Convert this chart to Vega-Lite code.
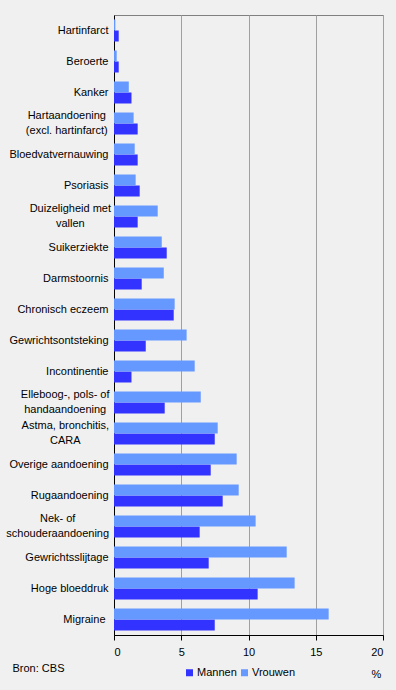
{
  "$schema": "https://vega.github.io/schema/vega-lite/v6.json",
  "width": 269,
  "height": 620,
  "autosize": {"type": "none"},
  "padding": {"left": 114, "top": 15, "right": 13, "bottom": 55},
  "background": "#f0f0f0",
  "config": {"font": "Liberation Sans", "view": {"stroke": "#808080", "strokeWidth": 1, "fill": "#f0f0f0"}},
  "data": {"values": [
    {"aandoening": "Hartinfarct", "geslacht": "Mannen", "pct": 0.35},
    {"aandoening": "Hartinfarct", "geslacht": "Vrouwen", "pct": 0.1},
    {"aandoening": "Beroerte", "geslacht": "Mannen", "pct": 0.35},
    {"aandoening": "Beroerte", "geslacht": "Vrouwen", "pct": 0.2},
    {"aandoening": "Kanker", "geslacht": "Mannen", "pct": 1.3},
    {"aandoening": "Kanker", "geslacht": "Vrouwen", "pct": 1.1},
    {"aandoening": "Hartaandoening|(excl. hartinfarct)", "geslacht": "Mannen", "pct": 1.76},
    {"aandoening": "Hartaandoening|(excl. hartinfarct)", "geslacht": "Vrouwen", "pct": 1.46},
    {"aandoening": "Bloedvatvernauwing", "geslacht": "Mannen", "pct": 1.76},
    {"aandoening": "Bloedvatvernauwing", "geslacht": "Vrouwen", "pct": 1.54},
    {"aandoening": "Psoriasis", "geslacht": "Mannen", "pct": 1.91},
    {"aandoening": "Psoriasis", "geslacht": "Vrouwen", "pct": 1.61},
    {"aandoening": "Duizeligheid met|vallen", "geslacht": "Mannen", "pct": 1.76},
    {"aandoening": "Duizeligheid met|vallen", "geslacht": "Vrouwen", "pct": 3.25},
    {"aandoening": "Suikerziekte", "geslacht": "Mannen", "pct": 3.92},
    {"aandoening": "Suikerziekte", "geslacht": "Vrouwen", "pct": 3.55},
    {"aandoening": "Darmstoornis", "geslacht": "Mannen", "pct": 2.06},
    {"aandoening": "Darmstoornis", "geslacht": "Vrouwen", "pct": 3.7},
    {"aandoening": "Chronisch eczeem", "geslacht": "Mannen", "pct": 4.44},
    {"aandoening": "Chronisch eczeem", "geslacht": "Vrouwen", "pct": 4.51},
    {"aandoening": "Gewrichtsontsteking", "geslacht": "Mannen", "pct": 2.36},
    {"aandoening": "Gewrichtsontsteking", "geslacht": "Vrouwen", "pct": 5.4},
    {"aandoening": "Incontinentie", "geslacht": "Mannen", "pct": 1.3},
    {"aandoening": "Incontinentie", "geslacht": "Vrouwen", "pct": 6.0},
    {"aandoening": "Elleboog-, pols- of|handaandoening", "geslacht": "Mannen", "pct": 3.77},
    {"aandoening": "Elleboog-, pols- of|handaandoening", "geslacht": "Vrouwen", "pct": 6.45},
    {"aandoening": "Astma, bronchitis,|CARA", "geslacht": "Mannen", "pct": 7.49},
    {"aandoening": "Astma, bronchitis,|CARA", "geslacht": "Vrouwen", "pct": 7.71},
    {"aandoening": "Overige aandoening", "geslacht": "Mannen", "pct": 7.19},
    {"aandoening": "Overige aandoening", "geslacht": "Vrouwen", "pct": 9.12},
    {"aandoening": "Rugaandoening", "geslacht": "Mannen", "pct": 8.08},
    {"aandoening": "Rugaandoening", "geslacht": "Vrouwen", "pct": 9.27},
    {"aandoening": "Nek- of|schouderaandoening", "geslacht": "Mannen", "pct": 6.37},
    {"aandoening": "Nek- of|schouderaandoening", "geslacht": "Vrouwen", "pct": 10.53},
    {"aandoening": "Gewrichtsslijtage", "geslacht": "Mannen", "pct": 7.04},
    {"aandoening": "Gewrichtsslijtage", "geslacht": "Vrouwen", "pct": 12.84},
    {"aandoening": "Hoge bloeddruk", "geslacht": "Mannen", "pct": 10.68},
    {"aandoening": "Hoge bloeddruk", "geslacht": "Vrouwen", "pct": 13.43},
    {"aandoening": "Migraine", "geslacht": "Mannen", "pct": 7.49},
    {"aandoening": "Migraine", "geslacht": "Vrouwen", "pct": 15.96}
  ]},
  "mark": {"type": "bar"},
  "encoding": {
    "y": {
      "field": "aandoening",
      "type": "nominal",
      "sort": ["Hartinfarct", "Beroerte", "Kanker", "Hartaandoening|(excl. hartinfarct)", "Bloedvatvernauwing", "Psoriasis", "Duizeligheid met|vallen", "Suikerziekte", "Darmstoornis", "Chronisch eczeem", "Gewrichtsontsteking", "Incontinentie", "Elleboog-, pols- of|handaandoening", "Astma, bronchitis,|CARA", "Overige aandoening", "Rugaandoening", "Nek- of|schouderaandoening", "Gewrichtsslijtage", "Hoge bloeddruk", "Migraine"],
      "scale": {"paddingInner": 0.29, "paddingOuter": 0.145},
      "axis": {
        "domainColor": "#000000",
        "ticks": false,
        "labelFontSize": 11,
        "labelColor": "#000000",
        "labelExpr": "split(datum.label, '|')",
        "labelLineHeight": 15,
        "labelOffset": {"condition": {"test": "indexof(datum.label, '|') >= 0", "value": -7.5}, "value": 0},
        "labelAlign": {"condition": {"test": "indexof(datum.label, '|') >= 0", "value": "center"}, "value": "right"},
        "labelPadding": {"condition": [
          {"test": "datum.label == 'Hartaandoening|(excl. hartinfarct)'", "value": 47.7},
          {"test": "datum.label == 'Duizeligheid met|vallen'", "value": 44.2},
          {"test": "datum.label == 'Elleboog-, pols- of|handaandoening'", "value": 49.3},
          {"test": "datum.label == 'Astma, bronchitis,|CARA'", "value": 49.2},
          {"test": "datum.label == 'Nek- of|schouderaandoening'", "value": 56.8},
          {"test": "datum.label == 'Migraine'", "value": 9}
        ], "value": 6},
        "labelLimit": 200,
        "title": "Bron: CBS",
        "titleAngle": 0,
        "titleX": -102,
        "titleY": 653,
        "titleAlign": "left",
        "titleBaseline": "middle",
        "titleFontWeight": "normal",
        "titleFontSize": 11,
        "titleColor": "#000000",
        "grid": false
      }
    },
    "yOffset": {"field": "geslacht", "type": "nominal", "sort": ["Vrouwen", "Mannen"]},
    "x": {
      "field": "pct",
      "type": "quantitative",
      "scale": {"domain": [0, 20]},
      "axis": {
        "values": [0, 5, 10, 15, 20],
        "grid": true,
        "gridColor": "#a0a0a0",
        "domainColor": "#000000",
        "tickColor": "#000000",
        "tickSize": 5,
        "labelPadding": 6,
        "labelFontSize": 11,
        "labelColor": "#000000",
        "title": "%",
        "titleX": 262,
        "titleY": 39,
        "titleAlign": "center",
        "titleBaseline": "middle",
        "titleFontWeight": "normal",
        "titleFontSize": 11,
        "titleColor": "#000000"
      }
    },
    "color": {
      "field": "geslacht",
      "type": "nominal",
      "scale": {"domain": ["Mannen", "Vrouwen"], "range": ["#3333ff", "#6699ff"]},
      "legend": {
        "orient": "none",
        "legendX": 70,
        "legendY": 652,
        "direction": "horizontal",
        "title": null,
        "symbolType": "square",
        "symbolSize": 49,
        "symbolStrokeWidth": 0,
        "labelFontSize": 11,
        "labelColor": "#000000",
        "labelOffset": 2,
        "columnPadding": 2,
        "padding": 0
      }
    }
  }
}
